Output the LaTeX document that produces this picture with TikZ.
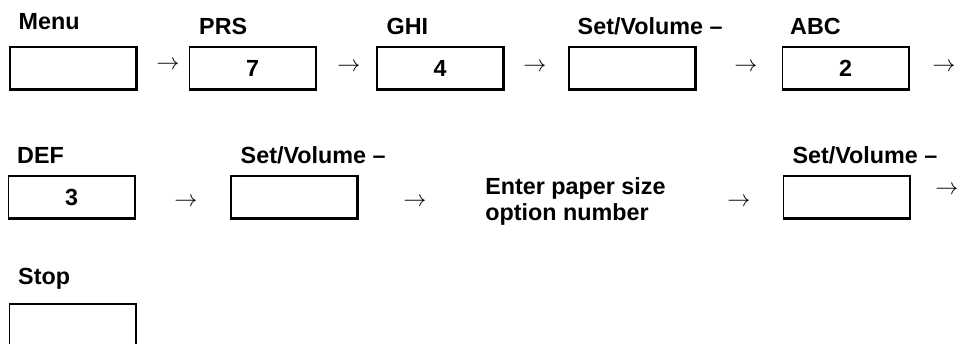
\documentclass[tikz,border=0pt]{standalone}
\usepackage{fontspec}
\setmainfont{Liberation Sans}
\usetikzlibrary{positioning}

\begin{document}
\begin{tikzpicture}[x=0.75pt, y=-0.75pt, every node/.style={font=\fontsize{17.5}{20}\selectfont\bfseries}]
\tikzset{key/.style={draw, line width=0.8pt, minimum width=94.5pt, minimum height=31.5pt, inner sep=0pt}}
\tikzset{lbl/.style={inner sep=0pt, text depth=0pt}}
\tikzset{arr/.style={font=\fontsize{17}{20}\selectfont, inner sep=0pt}}
\useasboundingbox (0,0) rectangle (959,343);
% first row
\node[key] (m1) at (73,68) {};
\node[key] (m2) at (252.5,68) {7};
\node[key] (m3) at (440,68) {4};
\node[key] (m4) at (632,68) {};
\node[key] (m5) at (845.5,68) {2};
\node[lbl, above right=12.75pt and 6.75pt of m1.north west] (l1) {Menu};
\node[lbl, above right=9pt and 7.5pt of m2.north west] (l2) {PRS};
\node[lbl, above right=9pt and 7.5pt of m3.north west] (l3) {GHI};
\node[lbl, above right=9pt and 6.75pt of m4.north west] (l4) {Set/Volume --};
\node[lbl, above right=9pt and 6pt of m5.north west] (l5) {ABC};
\node[arr] (a1) at (168,65) {$\rightarrow$};
\node[arr] (a2) at (349,67) {$\rightarrow$};
\node[arr] (a3) at (535,67) {$\rightarrow$};
\node[arr] (a4) at (746,67) {$\rightarrow$};
\node[arr] (a5) at (944,67) {$\rightarrow$};
% second row
\node[key] (n1) at (71.5,197) {3};
\node[key] (n2) at (294,197) {};
\node[inner sep=0pt, align=left, anchor=west, font=\fontsize{17.5}{19.5}\selectfont\bfseries] (n3) at (485,201) {Enter paper size\\option number};
\node[key] (n4) at (846.5,197) {};
\node[lbl, above right=8.7pt and 6.75pt of n1.north west] (k1) {DEF};
\node[lbl, above right=9pt and 7.5pt of n2.north west] (k2) {Set/Volume --};
\node[lbl, above right=9pt and 7pt of n4.north west] (k4) {Set/Volume --};
\node[arr] (b1) at (186,202) {$\rightarrow$};
\node[arr] (b2) at (415,202) {$\rightarrow$};
\node[arr] (b3) at (739,202) {$\rightarrow$};
\node[arr] (b4) at (947,190) {$\rightarrow$};
% third row
\node[key] (s1) at (72.5,325) {};
\node[lbl, above right=14.25pt and 6.75pt of s1.north west] (ls) {Stop};
% heavier right and bottom edges
\foreach \b in {m1,m2,m3,m4,m5,n1,n2,n4,s1}
  \draw[line width=1.8pt] (\b.north east) -- (\b.south east) -- (\b.south west);
\end{tikzpicture}
\end{document}
